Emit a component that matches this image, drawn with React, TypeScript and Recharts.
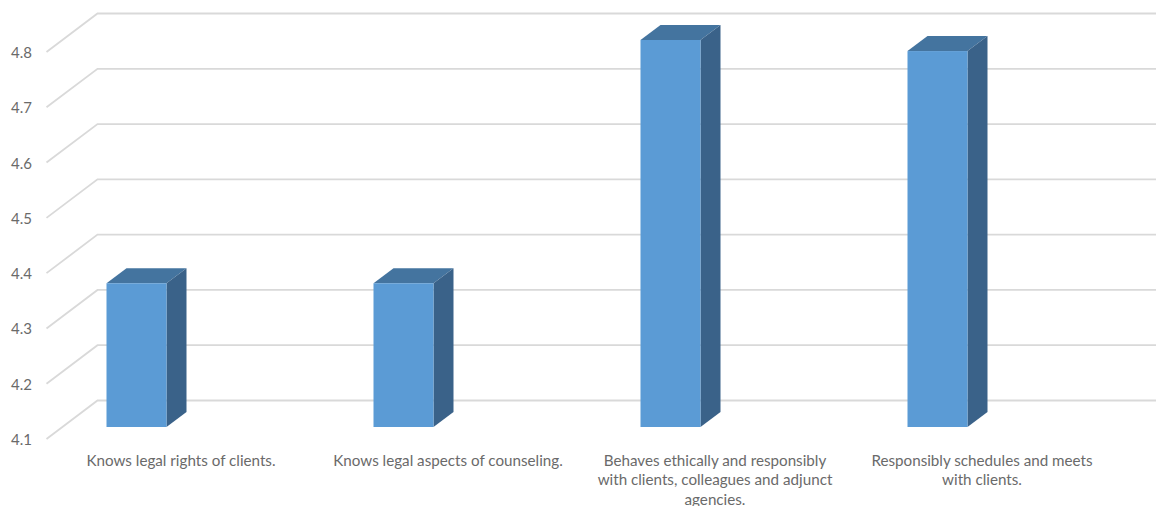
import React from "react";
import { BarChart, Bar, XAxis, YAxis, CartesianGrid } from "recharts";

const categories = [
  "Knows legal rights of clients.",
  "Knows legal aspects of counseling.",
  "Behaves ethically and responsibly\nwith clients, colleagues and adjunct\nagencies.",
  "Responsibly schedules and meets\nwith clients.",
];
const scores = [4.36, 4.36, 4.8, 4.78];
const yTicks = [4.1, 4.2, 4.3, 4.4, 4.5, 4.6, 4.7, 4.8];
const data = categories.map((category, i) => ({ category, score: scores[i] }));

const FONT = "Lato, 'Open Sans', sans-serif";
const TEXT = "#6a6a6a";
const BAR_SHIFT = -45;
const DEPTH_X = 20;
const DEPTH_Y = 15;

const Bar3D = (props: any) => {
  const { x, y, width, height } = props;
  const l = x + BAR_SHIFT;
  const r = l + width;
  const b = y + height;
  return (
    <g>
      <polygon points={`${l},${y} ${l + DEPTH_X},${y - DEPTH_Y} ${r + DEPTH_X},${y - DEPTH_Y} ${r},${y}`} fill="#44749F" />
      <polygon points={`${r},${y} ${r + DEPTH_X},${y - DEPTH_Y} ${r + DEPTH_X},${b - DEPTH_Y} ${r},${b}`} fill="#3A6289" />
      <rect x={l} y={y} width={width} height={height} fill="#5B9BD5" />
    </g>
  );
};

const GridLine = (props: any) => {
  const { x1, x2, y1 } = props;
  return (
    <path
      d={`M${x1 - 1},${y1 + 12} L${x1 + 50},${y1 - 26.5} L${x2 + 51},${y1 - 26.5}`}
      fill="none"
      stroke="#D9D9D9"
      strokeWidth={1.8}
    />
  );
};

const YTick = (props: any) => {
  const { y, payload } = props;
  return (
    <text x={11} y={y + 18} fontFamily={FONT} fontSize={15} fill={TEXT}>
      {payload.value.toFixed(1)}
    </text>
  );
};

const XTick = (props: any) => {
  const { x, payload } = props;
  const lines = String(payload.value).split("\n");
  return (
    <text textAnchor="middle" fontFamily={FONT} fontSize={15.2} fill={TEXT}>
      {lines.map((line, i) => (
        <tspan key={i} x={x} y={465.5 + i * 19.7}>
          {line}
        </tspan>
      ))}
    </text>
  );
};

export default function App() {
  return (
    <div style={{ position: "absolute", left: 0, top: 0, width: 1156, height: 506 }}>
      <BarChart
        width={1156}
        height={506}
        data={data}
        margin={{ top: 40, right: 40.5, bottom: 0, left: 0 }}
      >
        <CartesianGrid vertical={false} horizontal={<GridLine />} />
        <XAxis
          dataKey="category"
          height={79}
          axisLine={false}
          tickLine={false}
          interval={0}
          tick={<XTick />}
        />
        <YAxis
          width={47.5}
          domain={[4.1, 4.8]}
          ticks={yTicks}
          axisLine={false}
          tickLine={false}
          interval={0}
          tick={<YTick />}
        />
        <Bar dataKey="score" barSize={60} isAnimationActive={false} shape={<Bar3D />} />
      </BarChart>
    </div>
  );
}
